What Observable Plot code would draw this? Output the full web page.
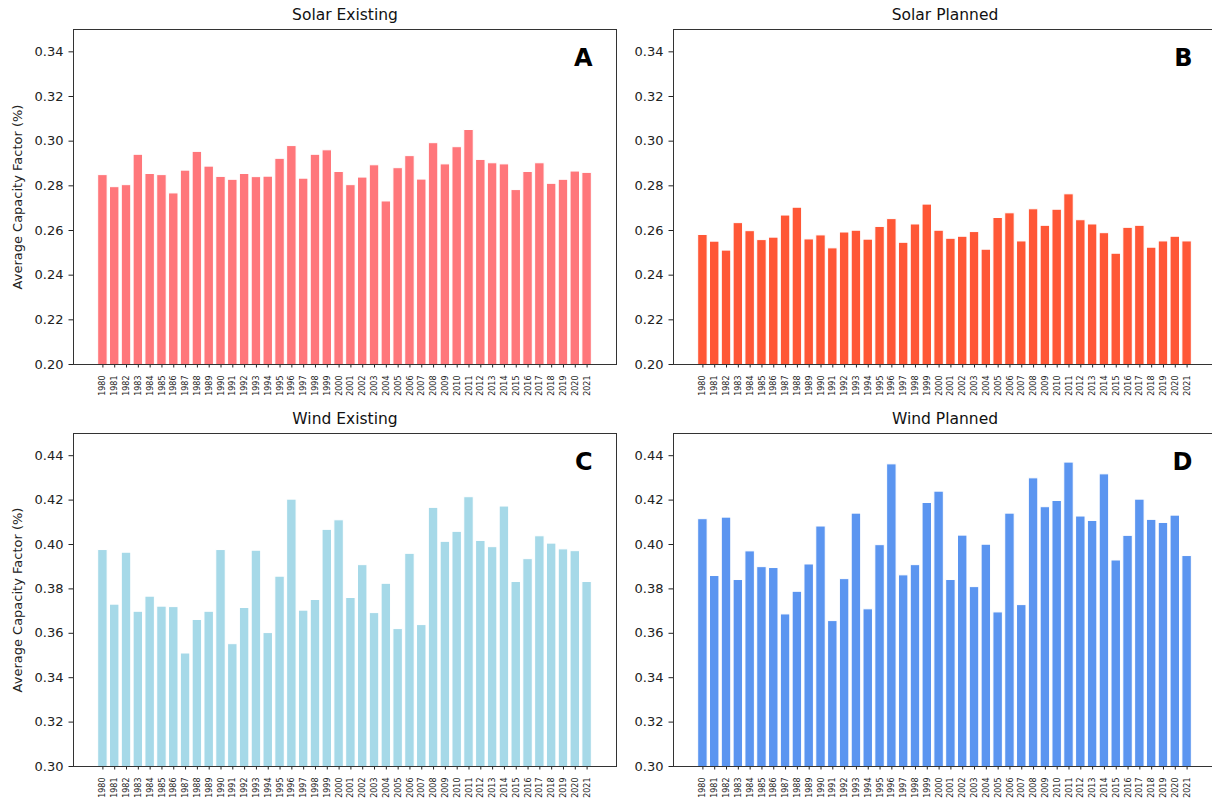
<!DOCTYPE html>
<html>
<head>
<meta charset="utf-8">
<script src="https://cdn.jsdelivr.net/npm/d3@7"></script>
<script src="https://cdn.jsdelivr.net/npm/@observablehq/plot@0.6"></script>
<style>
  html, body { margin: 0; padding: 0; background: #fff; overflow: hidden; }
  #chart { position: relative; width: 1212px; height: 803px; overflow: hidden; background: #fff; }
  #chart svg { position: absolute; }
</style>
</head>
<body>
<div id="chart"></div>
<script>
// Weather years on the x axis
const years = [
  "1980", "1981", "1982", "1983", "1984", "1985", "1986", "1987", "1988", "1989",
  "1990", "1991", "1992", "1993", "1994", "1995", "1996", "1997", "1998", "1999",
  "2000", "2001", "2002", "2003", "2004", "2005", "2006", "2007", "2008", "2009",
  "2010", "2011", "2012", "2013", "2014", "2015", "2016", "2017", "2018", "2019",
  "2020", "2021"
];

// Average capacity factor per weather year
const solarExisting = [
  0.2848, 0.2794, 0.2803, 0.2939, 0.2853, 0.2848, 0.2766, 0.2868, 0.2952, 0.2886,
  0.2840, 0.2827, 0.2853, 0.2839, 0.2841, 0.2921, 0.2978, 0.2832, 0.2939, 0.2959,
  0.2862, 0.2803, 0.2837, 0.2892, 0.2730, 0.2879, 0.2933, 0.2828, 0.2991, 0.2896,
  0.2973, 0.3050, 0.2916, 0.2901, 0.2896, 0.2781, 0.2862, 0.2901, 0.2809, 0.2827,
  0.2864, 0.2858
];
const solarPlanned = [
  0.2580, 0.2550, 0.2510, 0.2633, 0.2597, 0.2557, 0.2568, 0.2667, 0.2702, 0.2560,
  0.2578, 0.2520, 0.2591, 0.2599, 0.2559, 0.2616, 0.2651, 0.2545, 0.2627, 0.2716,
  0.2599, 0.2563, 0.2572, 0.2593, 0.2514, 0.2656, 0.2677, 0.2551, 0.2695, 0.2621,
  0.2693, 0.2762, 0.2646, 0.2627, 0.2588, 0.2496, 0.2612, 0.2621, 0.2523, 0.2551,
  0.2572, 0.2551
];
const windExisting = [
  0.3975, 0.3729, 0.3963, 0.3697, 0.3765, 0.3720, 0.3718, 0.3509, 0.3660, 0.3697,
  0.3975, 0.3551, 0.3714, 0.3972, 0.3601, 0.3855, 0.4202, 0.3702, 0.3750, 0.4066,
  0.4109, 0.3759, 0.3907, 0.3691, 0.3823, 0.3619, 0.3958, 0.3637, 0.4165, 0.4012,
  0.4057, 0.4213, 0.4016, 0.3988, 0.4171, 0.3831, 0.3934, 0.4037, 0.4004, 0.3978,
  0.3970, 0.3831
];
const windPlanned = [
  0.4114, 0.3858, 0.4121, 0.3840, 0.3969, 0.3898, 0.3894, 0.3685, 0.3787, 0.3910,
  0.4081, 0.3655, 0.3844, 0.4139, 0.3708, 0.3997, 0.4361, 0.3861, 0.3907, 0.4187,
  0.4238, 0.3840, 0.4040, 0.3808, 0.3999, 0.3694, 0.4139, 0.3727, 0.4298, 0.4168,
  0.4196, 0.4369, 0.4126, 0.4106, 0.4316, 0.3928, 0.4039, 0.4202, 0.4111, 0.4097,
  0.4130, 0.3948
];

// y tick values
const solarTicks = [0.20, 0.22, 0.24, 0.26, 0.28, 0.30, 0.32, 0.34];
const windTicks = [0.30, 0.32, 0.34, 0.36, 0.38, 0.40, 0.42, 0.44];
const solarDomain = [0.20, 0.35];
const windDomain = [0.30, 0.45];

const titles = ["Solar Existing", "Solar Planned", "Wind Existing", "Wind Planned"];
const tags = ["A", "B", "C", "D"];
const colors = ["#ff777b", "#ff5736", "#a6d9e8", "#5b95f0"];
const yLabel = "Average Capacity Factor (%)";

const panels = [
  { title: titles[0], tag: tags[0], values: solarExisting, color: colors[0], domain: solarDomain, ticks: solarTicks, left: 0,   top: 0,   height: 410, mb: 46, showLabel: true },
  { title: titles[1], tag: tags[1], values: solarPlanned,  color: colors[1], domain: solarDomain, ticks: solarTicks, left: 600, top: 0,   height: 410, mb: 46, showLabel: false },
  { title: titles[2], tag: tags[2], values: windExisting,  color: colors[2], domain: windDomain,  ticks: windTicks,  left: 0,   top: 404, height: 399, mb: 37, showLabel: true },
  { title: titles[3], tag: tags[3], values: windPlanned,   color: colors[3], domain: windDomain,  ticks: windTicks,  left: 600, top: 404, height: 399, mb: 37, showLabel: false }
];

const chart = document.getElementById("chart");

for (const p of panels) {
  const data = years.map((year, i) => ({ year, value: p.values[i] }));
  const marks = [
    Plot.barY(data, {
      x: "year", y: "value", fill: p.color,
      stroke: "white", strokeWidth: 1, clip: true
    }),
    Plot.axisY({
      ticks: p.ticks, tickFormat: d3.format(".2f"),
      tickSize: 4.5, tickPadding: 5.5, fontSize: 13, label: null, color: "#222"
    }),
    Plot.axisX({
      tickRotate: -90, tickSize: 3.5, tickPadding: 7.5, fontSize: 8, label: null, color: "#222"
    }),
    Plot.frame({ stroke: "#333", strokeWidth: 1 }),
    Plot.text([p.title], {
      text: d => d, frameAnchor: "top", dy: -14, lineAnchor: "middle",
      fontSize: 15.5, fill: "#111"
    }),
    Plot.text([p.tag], {
      text: d => d, frameAnchor: "top-right", dx: -24, dy: 29,
      textAnchor: "end", lineAnchor: "middle",
      fontSize: 24, fontWeight: "bold", fill: "#000"
    })
  ];
  if (p.showLabel) {
    marks.push(Plot.text([yLabel], {
      text: d => d, frameAnchor: "left", dx: -56, rotate: -90,
      textAnchor: "middle", lineAnchor: "middle", fontSize: 13, fill: "#222"
    }));
  }
  const svg = Plot.plot({
    width: 620,
    height: p.height,
    marginLeft: 73,
    marginRight: 4,
    marginTop: 29,
    marginBottom: p.mb,
    style: { fontFamily: "DejaVu Sans", background: "transparent", overflow: "visible" },
    x: { type: "band", domain: years, paddingInner: 0.2, paddingOuter: 2.09, round: false },
    y: { domain: p.domain },
    marks
  });
  svg.style.left = p.left + "px";
  svg.style.top = p.top + "px";
  chart.appendChild(svg);
}
</script>
</body>
</html>
